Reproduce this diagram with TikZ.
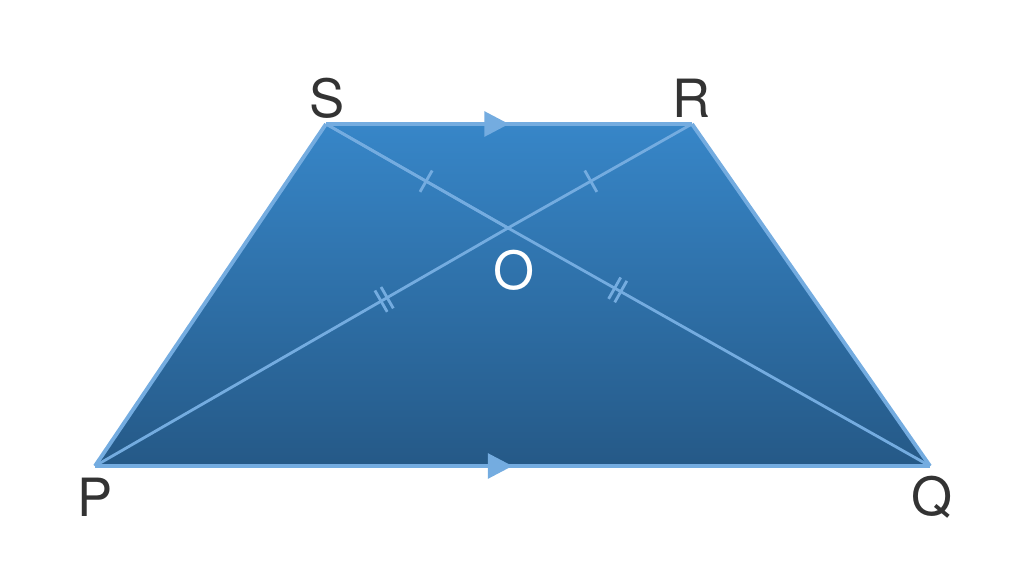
\documentclass[tikz,border=0pt]{standalone}
\usepackage{fontspec}
\setmainfont{TeX Gyre Heros}
\usetikzlibrary{decorations.markings,arrows.meta}
\definecolor{edgeblue}{HTML}{74ACE0}
\definecolor{topblue}{HTML}{3786C8}
\definecolor{botblue}{HTML}{255987}
\definecolor{labelgray}{HTML}{333333}
\tikzset{
  side/.style={draw=edgeblue, line width=2.2pt},
  diag/.style={draw=edgeblue, line width=1.6pt},
  midarrow/.style={postaction={decorate, decoration={markings,
    mark=at position 0.5 with {\arrow{Triangle[length=14pt,width=14pt,fill=edgeblue]}}}}},
  onetick/.style={postaction={decorate, decoration={markings,
    mark=at position #1 with {\draw[edgeblue, line width=1.6pt] (0,-7pt) -- (0,7pt);}}}},
  twotick/.style={postaction={decorate, decoration={markings,
    mark=at position #1 with {\draw[edgeblue, line width=1.6pt] (-2pt,-7pt) -- (-2pt,7pt) (2pt,-7pt) -- (2pt,7pt);}}}},
  vlabel/.style={font=\fontsize{30}{34}\selectfont, text=labelgray}
}
\begin{document}
\begin{tikzpicture}[x=0.02cm, y=-0.02cm]
\useasboundingbox (0,0) rectangle (1024,576);
\coordinate (P) at (95,466);
\coordinate (Q) at (930,466);
\coordinate (R) at (692,124);
\coordinate (S) at (326,124);
\coordinate (O) at (508,228);
% trapezoid
\shade[top color=topblue, bottom color=botblue] (P) -- (Q) -- (R) -- (S) -- cycle;
% diagonals
\draw[diag] (S) -- (O);
\draw[diag, onetick=0.55] (S) -- (O);
\draw[diag, onetick=0.45] (O) -- (R);
\draw[diag, twotick=0.7] (P) -- (O);
\draw[diag, twotick=0.26] (O) -- (Q);
% sides
\draw[side, line join=round] (Q) -- (R) (S) -- (P);
\draw[side, midarrow] (P) -- (Q);
\draw[side, midarrow] (S) -- (R);
% labels
\node[vlabel] (lS) at (327,98) {S};
\node[vlabel] (lR) at (692,98) {R};
\node[vlabel] (lP) at (95,497) {P};
\node[vlabel] (lQ) at (932,497) {Q};
\node[vlabel, text=white] (lO) at (514,270) {O};
\end{tikzpicture}
\end{document}
